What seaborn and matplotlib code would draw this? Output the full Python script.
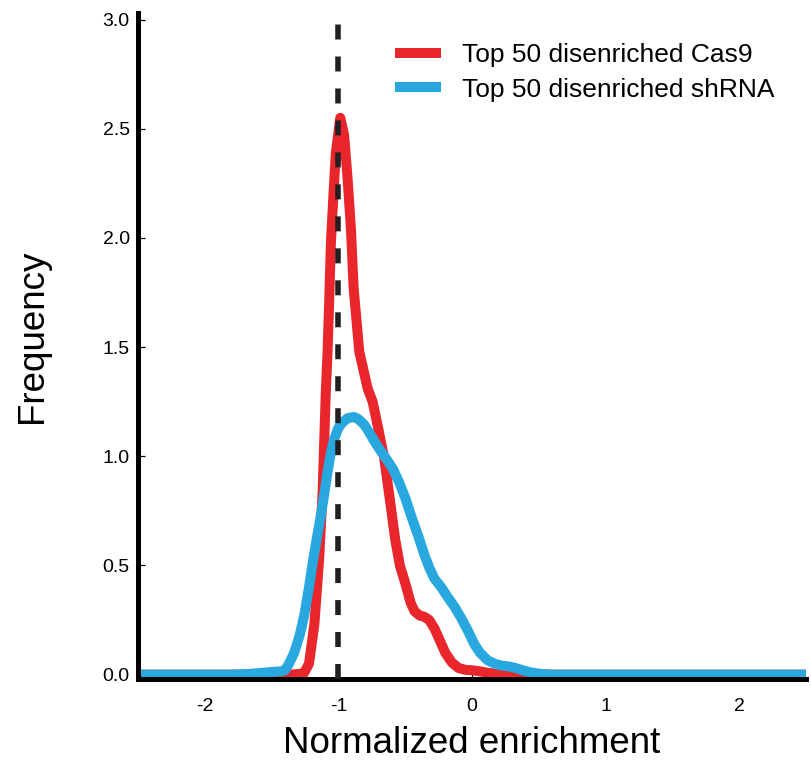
import matplotlib
matplotlib.use("Agg")
import matplotlib.pyplot as plt
import seaborn as sns
import pandas as pd

# ---- data ----
cas9_x = [-2.5, -1.36, -1.26, -1.22, -1.18, -1.144, -1.118, -1.094, -1.081, -1.069,
          -1.056, -1.036, -1.019, -0.986, -0.957, -0.931, -0.906, -0.886, -0.844,
          -0.781, -0.744, -0.706, -0.657, -0.61, -0.575, -0.54, -0.50, -0.46, -0.43,
          -0.39, -0.357, -0.32, -0.28, -0.24, -0.20, -0.15, -0.10, -0.05, 0.0, 0.06,
          0.12, 0.20, 0.30, 2.5]
cas9_y = [0.0, 0.0, 0.005, 0.05, 0.23, 0.53, 0.84, 1.30, 1.48, 1.71,
          1.98, 2.21, 2.39, 2.55, 2.47, 2.27, 2.04, 1.77, 1.48,
          1.31, 1.25, 1.14, 0.99, 0.78, 0.62, 0.50, 0.42, 0.33, 0.29,
          0.27, 0.265, 0.25, 0.21, 0.155, 0.10, 0.055, 0.03, 0.022, 0.02, 0.015,
          0.008, 0.003, 0.0, 0.0]

shrna_x = [-2.5, -1.8, -1.65, -1.5, -1.43, -1.40, -1.37, -1.331, -1.29, -1.256, -1.22,
           -1.193, -1.16, -1.131, -1.10, -1.081, -1.055, -1.031, -1.0, -0.969, -0.93,
           -0.882, -0.85, -0.807, -0.77, -0.732, -0.69, -0.632, -0.59, -0.545, -0.50,
           -0.457, -0.40, -0.357, -0.32, -0.282, -0.23, -0.182, -0.13, -0.082, -0.03,
           0.017, 0.06, 0.118, 0.17, 0.217, 0.27, 0.317, 0.38, 0.442, 0.52, 0.6, 2.5]
shrna_y = [0.0, 0.0, 0.004, 0.012, 0.015, 0.02, 0.05, 0.10, 0.18, 0.27, 0.40,
           0.51, 0.63, 0.73, 0.85, 0.93, 1.02, 1.08, 1.13, 1.155, 1.175,
           1.18, 1.17, 1.145, 1.11, 1.07, 1.03, 0.98, 0.94, 0.88, 0.81,
           0.73, 0.63, 0.55, 0.49, 0.44, 0.40, 0.355, 0.31, 0.26, 0.20,
           0.14, 0.10, 0.065, 0.05, 0.042, 0.038, 0.032, 0.02, 0.01, 0.003, 0.0, 0.0]

series_labels = ["Top 50 disenriched Cas9", "Top 50 disenriched shRNA"]
series_colors = ["#E8262B", "#29A8E0"]
ref_x = -1.0
x_ticks = [-2, -1, 0, 1, 2]
y_ticks = [0.0, 0.5, 1.0, 1.5, 2.0, 2.5, 3.0]
x_label = "Normalized enrichment"
y_label = "Frequency"

# ---- styling ----
sns.set_style("ticks")
plt.rcParams["font.family"] = ["Liberation Sans", "DejaVu Sans"]
plt.rcParams["text.color"] = "black"
plt.rcParams["axes.labelcolor"] = "black"
plt.rcParams["xtick.color"] = "black"
plt.rcParams["ytick.color"] = "black"

fig = plt.figure(figsize=(8.11, 7.6), dpi=100)
ax = fig.add_axes([138 / 811, 1 - 679 / 760, (806 - 138) / 811, (679 - 13) / 760])

df = pd.concat([
    pd.DataFrame({"x": cas9_x, "y": cas9_y, "series": series_labels[0]}),
    pd.DataFrame({"x": shrna_x, "y": shrna_y, "series": series_labels[1]}),
])

sns.lineplot(data=df, x="x", y="y", hue="series", palette=series_colors,
             hue_order=series_labels, linewidth=7.2, ax=ax, sort=False,
             estimator=None, legend=True, solid_capstyle="butt")

ax.axvline(ref_x, ymin=0, ymax=0.99, color="#231F20", linewidth=4.0,
           linestyle=(0, (15 / 5.56, 17 / 5.56)), zorder=5)

ax.set_xlim(-2.5, 2.5)
ax.set_ylim(-0.02, 3.03)
ax.set_xticks(x_ticks)
ax.set_xticklabels([str(t) for t in x_ticks])
ax.set_yticks(y_ticks)
ax.set_yticklabels([f"{t:.1f}" for t in y_ticks])

for side in ["top", "right"]:
    ax.spines[side].set_visible(False)
for side in ["left", "bottom"]:
    ax.spines[side].set_linewidth(3.6)
    ax.spines[side].set_color("black")

ax.tick_params(axis="both", direction="in", length=5, width=0.9, colors="black",
               labelcolor="black", labelsize=14)
ax.tick_params(axis="x", pad=14)
ax.tick_params(axis="y", pad=6)

ax.set_xlabel(x_label, fontsize=26.5, color="black")
ax.set_ylabel(y_label, fontsize=26.5, color="black")
ax.xaxis.set_label_coords(0.5, -0.07)
ax.yaxis.set_label_coords(-0.132, 0.515)

handles, labels = ax.get_legend_handles_labels()
leg = ax.legend(handles, labels, loc="upper left",
                bbox_to_anchor=(395 / 811, 1 - 43 / 760), bbox_transform=fig.transFigure,
                frameon=False, fontsize=19, handlelength=1.74, handletextpad=0.8,
                labelspacing=0.4, borderpad=0, borderaxespad=0, labelcolor="black")
for line in leg.get_lines():
    line.set_linewidth(7.2)
    line.set_solid_capstyle("butt")

fig.savefig("out.png", dpi=100)
